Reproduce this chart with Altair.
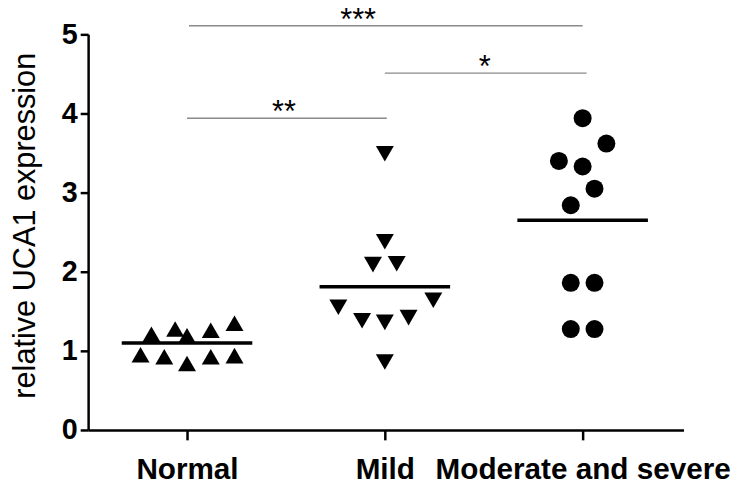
import altair as alt
import pandas as pd

groups = ["Normal", "Mild", "Moderate and severe"]
group_pos = [1, 2, 3]

normal_x = [0.765, 0.82, 0.885, 0.94, 1.0, 1.0, 1.12, 1.12, 1.24, 1.24]
normal_y = [0.95, 1.21, 0.925, 1.275, 1.19, 0.84, 1.26, 0.925, 1.35, 0.94]

mild_x = [2.0, 2.0, 1.94, 2.06, 1.765, 2.245, 1.885, 2.0, 2.12, 2.0]
mild_y = [3.49, 2.38, 2.09, 2.10, 1.55, 1.64, 1.38, 1.36, 1.42, 0.86]

mod_x = [3.0, 3.12, 2.88, 3.0, 3.06, 2.94, 2.94, 3.06, 2.94, 3.06]
mod_y = [3.94, 3.62, 3.40, 3.33, 3.05, 2.84, 1.86, 1.86, 1.275, 1.275]

means = [1.10, 1.81, 2.65]

sig_start = [1.01, 2.0, 1.0]
sig_end = [3.0, 3.02, 2.01]
sig_y = [5.11, 4.51, 3.94]
sig_text = ["***", "*", "**"]
sig_text_x = [1.865, 2.505, 1.49]

shapes = ["triangle-up", "triangle-down", "circle"]

pts = pd.DataFrame({
    "x": normal_x + mild_x + mod_x,
    "y": normal_y + mild_y + mod_y,
    "group": [groups[0]] * len(normal_x) + [groups[1]] * len(mild_x) + [groups[2]] * len(mod_x),
})
mean_df = pd.DataFrame({"x": group_pos, "y": means})
sig_df = pd.DataFrame({"x": sig_start, "x2": sig_end, "y": sig_y, "t": sig_text, "tx": sig_text_x})

label_expr = " : ".join(
    [f"datum.value == {p} ? '{g}'" for p, g in zip(group_pos[:-1], groups[:-1])]
) + f" : '{groups[-1]}'"

xscale = alt.Scale(domain=[0.5, 3.51], nice=False, zero=False)
yscale = alt.Scale(domain=[0, 5], nice=False)

x_axis = alt.Axis(
    values=group_pos, labelExpr=label_expr, title=None, grid=False,
    tickSize=10, tickWidth=2.5, tickColor="black", domainColor="black", domainWidth=2.5,
    labelFont="Liberation Sans", labelFontSize=30, labelFontWeight="bold", labelColor="black",
    labelPadding=15, labelOverlap=False, labelFlush=False, labelLimit=0,
)
y_axis = alt.Axis(
    values=[0, 1, 2, 3, 4, 5], format="d", title="relative UCA1 expression", grid=False,
    tickSize=8, tickWidth=2.5, tickColor="black", domainColor="black", domainWidth=2.5,
    labelFont="Liberation Sans", labelFontSize=29, labelFontWeight="bold", labelColor="black",
    labelPadding=3, titleFont="Liberation Sans", titleFontSize=31, titleFontWeight="normal",
    titleColor="black", titleX=-54, titleY=193, titleAlign="center",
    titleBaseline="alphabetic", titleAngle=270,
)

points = alt.Chart(pts).mark_point(filled=True, color="black", size=330, opacity=1).encode(
    x=alt.X("x:Q", scale=xscale, axis=x_axis),
    y=alt.Y("y:Q", scale=yscale, axis=y_axis),
    shape=alt.Shape("group:N", scale=alt.Scale(domain=groups, range=shapes), legend=None),
)

mean_ticks = alt.Chart(mean_df).mark_tick(
    orient="horizontal", size=132, thickness=3.5, color="black", opacity=1
).encode(
    x=alt.X("x:Q", scale=xscale),
    y=alt.Y("y:Q", scale=yscale),
)

sig_lines = alt.Chart(sig_df).mark_rule(color="#8a8a8a", strokeWidth=1.5).encode(
    x=alt.X("x:Q", scale=xscale),
    x2="x2:Q",
    y=alt.Y("y:Q", scale=yscale),
)

sig_labels = alt.Chart(sig_df).mark_text(
    font="Liberation Sans", fontSize=31, color="black", baseline="alphabetic", dy=4, align="center"
).encode(
    x=alt.X("tx:Q", scale=xscale),
    y=alt.Y("y:Q", scale=yscale),
    text="t:N",
)

chart = alt.layer(sig_lines, sig_labels, mean_ticks, points).properties(
    width=602, height=400,
    autosize=alt.AutoSizeParams(type="none"),
    padding={"left": 81, "top": 24, "right": 48, "bottom": 54},
).configure_view(stroke=None)

chart.save("out.html", embed_options={"renderer": "svg", "actions": False})
